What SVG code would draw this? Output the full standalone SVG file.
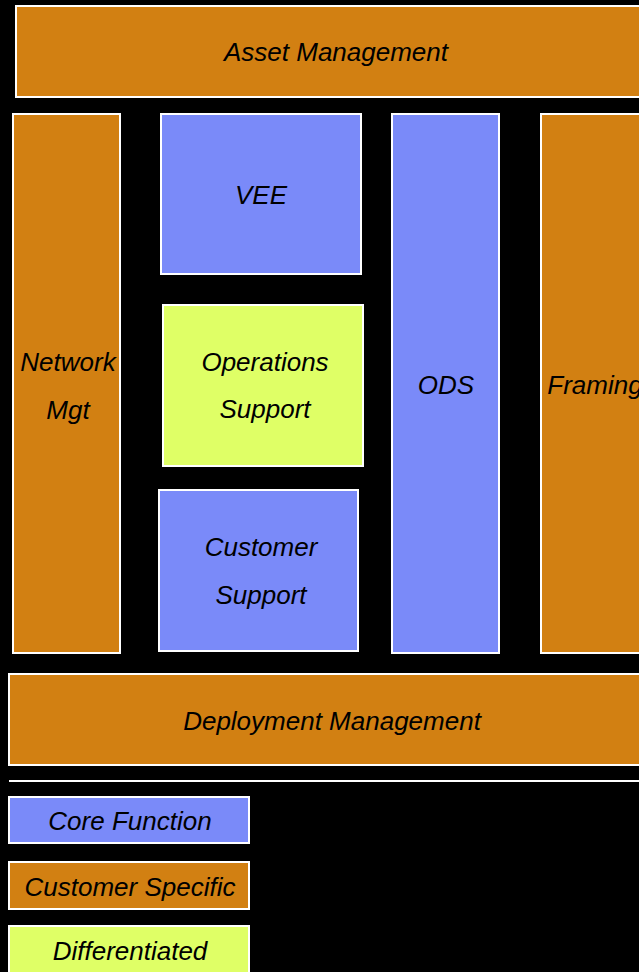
<svg xmlns="http://www.w3.org/2000/svg" width="639" height="972" viewBox="0 0 639 972">
  <style>
    .box { stroke: #ffffff; stroke-width: 2; }
    .cust { fill: #d28012; }
    .core { fill: #7a8af9; }
    .diff { fill: #dfff66; }
    text { font-family: "Liberation Sans", Arial, sans-serif; font-style: italic; font-size: 26px; fill: #000000; text-anchor: middle; }
  </style>
  <rect width="639" height="972" fill="#000000"/>

  <g id="asset-management">
    <rect class="box cust" x="16" y="6" width="640" height="91"/>
    <text x="336" y="61">Asset Management</text>
  </g>

  <g id="network-mgt">
    <rect class="box cust" x="13" y="114" width="107" height="539"/>
    <text x="68" y="371">Network</text>
    <text x="68" y="419">Mgt</text>
  </g>

  <g id="vee">
    <rect class="box core" x="161" y="114" width="200" height="160"/>
    <text x="261" y="204">VEE</text>
  </g>

  <g id="operations-support">
    <rect class="box diff" x="163" y="305" width="200" height="161"/>
    <text x="265" y="371">Operations</text>
    <text x="265" y="418">Support</text>
  </g>

  <g id="customer-support">
    <rect class="box core" x="159" y="490" width="199" height="161"/>
    <text x="261" y="556">Customer</text>
    <text x="261" y="604">Support</text>
  </g>

  <g id="ods">
    <rect class="box core" x="392" y="114" width="107" height="539"/>
    <text x="446" y="394">ODS</text>
  </g>

  <g id="framing">
    <rect class="box cust" x="541" y="114" width="107" height="539"/>
    <text x="595" y="394">Framing</text>
  </g>

  <g id="deployment-management">
    <rect class="box cust" x="9" y="674" width="646" height="91"/>
    <text x="332" y="730">Deployment Management</text>
  </g>

  <g id="separator">
    <line x1="9" y1="781" x2="639" y2="781" stroke="#ffffff" stroke-width="2"/>
  </g>

  <g id="legend-core">
    <rect class="box core" x="9" y="797" width="240" height="46"/>
    <text x="130" y="830">Core Function</text>
  </g>

  <g id="legend-customer">
    <rect class="box cust" x="9" y="862" width="240" height="47"/>
    <text x="130" y="896">Customer Specific</text>
  </g>

  <g id="legend-differentiated">
    <rect class="box diff" x="9" y="926" width="240" height="60"/>
    <text x="130" y="960">Differentiated</text>
  </g>

  <g id="connectors"/>
</svg>
